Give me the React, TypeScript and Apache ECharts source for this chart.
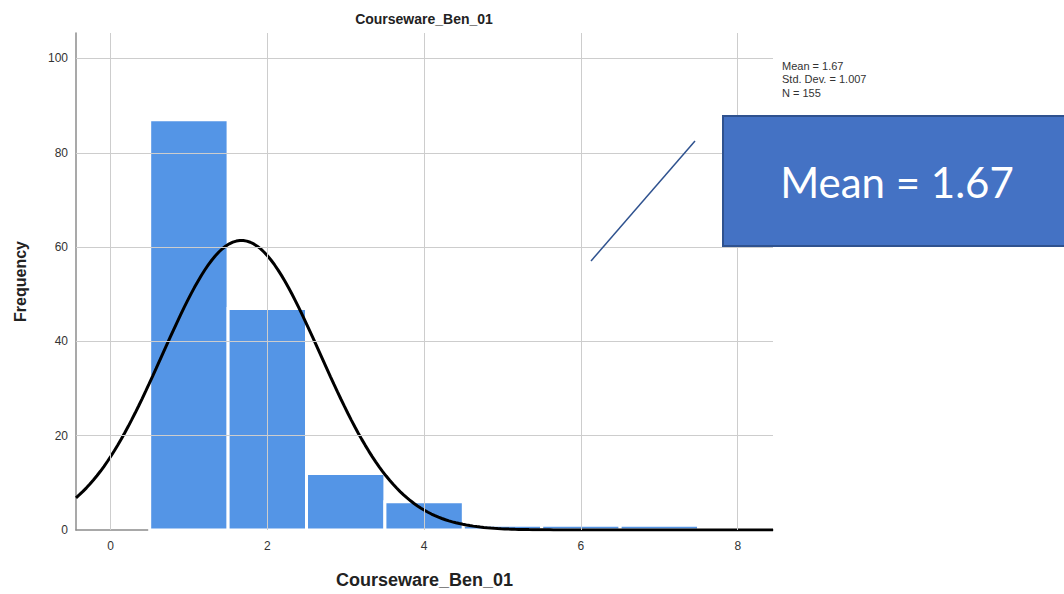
import React, { useEffect, useRef } from "react";
import * as echarts from "echarts";

// ---- Data ----
const binCenters = [1, 2, 3, 4, 5, 6, 7];
const frequencies = [87, 47, 12, 6, 1, 1, 1];
const binWidth = 1;
const xTicks = [0, 2, 4, 6, 8];
const yTicks = [0, 20, 40, 60, 80, 100];
const statMean = 1.67;
const statSd = 1.007;
const statN = 155;
const statLines = ["Mean = 1.67", "Std. Dev. = 1.007", "N = 155"];
const titleText = "Courseware_Ben_01";
const yName = "Frequency";
const calloutText = "Mean = 1.67";

const X_MIN = -0.44;
const X_MAX = 8.45;
const Y_MAX = 105.4;

// Fitted normal curve (SPSS overlay) defined by the stated Mean, Std. Dev. and N
function normalCurve(): number[][] {
  const pts: number[][] = [];
  const steps = 200;
  for (let i = 0; i <= steps; i++) {
    const x = X_MIN + ((X_MAX - X_MIN) * i) / steps;
    const z = (x - statMean) / statSd;
    const y = (statN * binWidth) / (statSd * Math.sqrt(2 * Math.PI)) * Math.exp(-0.5 * z * z);
    pts.push([x, y]);
  }
  return pts;
}

export default function App() {
  const ref = useRef<HTMLDivElement>(null);

  useEffect(() => {
    if (!ref.current) return;
    const chart = echarts.init(ref.current, null, { renderer: "svg" });
    const font = "'Liberation Sans', Arial, sans-serif";
    const gridColor = "#cdcdcd";
    const axisColor = "#8c8c8c";

    const option: any = {
      animation: false,
      backgroundColor: "#ffffff",
      title: {
        text: titleText,
        left: 419,
        top: 7,
        textAlign: "center",
        textStyle: { fontFamily: font, fontSize: 14, fontWeight: "bold", color: "#222" },
      },
      grid: {
        left: 76,
        right: 291,
        top: 33,
        bottom: 64,
        containLabel: false,
        outerBoundsMode: "none",
      },
      xAxis: {
        type: "value",
        min: X_MIN,
        max: X_MAX,
        name: titleText,
        nameLocation: "middle",
        nameGap: 41,
        nameTextStyle: { fontFamily: font, fontSize: 18, fontWeight: "bold", color: "#222" },
        axisLine: { show: true, onZero: false, lineStyle: { color: axisColor, width: 1.5 } },
        axisTick: { show: false },
        splitLine: { show: false },
        axisLabel: {
          customValues: xTicks,
          fontFamily: font,
          fontSize: 12,
          color: "#333",
          margin: 10,
        },
      },
      yAxis: {
        type: "value",
        position: "left",
        min: 0,
        max: Y_MAX,
        name: yName,
        nameLocation: "middle",
        nameGap: 48,
        nameTextStyle: { fontFamily: font, fontSize: 16, fontWeight: "bold", color: "#222" },
        axisLine: { show: true, onZero: false, lineStyle: { color: axisColor, width: 1.5 } },
        axisTick: { show: false },
        splitLine: { show: false },
        axisLabel: {
          customValues: yTicks,
          fontFamily: font,
          fontSize: 12,
          color: "#333",
          margin: 8,
        },
      },
      series: [
        {
          type: "line",
          name: "grid",
          z: 1,
          silent: true,
          symbol: "none",
          data: [[X_MIN, 0]],
          lineStyle: { opacity: 0 },
          markLine: {
            silent: true,
            symbol: "none",
            animation: false,
            label: { show: false },
            lineStyle: { color: gridColor, width: 1, type: "solid" },
            emphasis: { disabled: true },
            data: [
              ...xTicks.map((v) => ({ xAxis: v })),
              ...yTicks.filter((v) => v > 0).map((v) => ({ yAxis: v })),
            ],
          },
        },
        {
          type: "custom",
          name: "Frequency",
          z: 2,
          data: binCenters.map((c, i) => [c, frequencies[i]]),
          renderItem: (params: any, api: any) => {
            const c = api.value(0);
            const f = api.value(1);
            const p0 = api.coord([c - binWidth / 2, f]);
            const p1 = api.coord([c + binWidth / 2, 0]);
            return {
              type: "rect",
              shape: { x: p0[0], y: p0[1], width: p1[0] - p0[0], height: p1[1] - p0[1] },
              style: { fill: "#5495e6", stroke: "#ffffff", lineWidth: 3 },
            };
          },
        },
        {
          type: "line",
          name: "Normal",
          z: 3,
          symbol: "none",
          smooth: false,
          data: normalCurve(),
          lineStyle: { color: "#000000", width: 3 },
        },
      ],
      graphic: [
        {
          type: "text",
          left: 782,
          top: 59,
          z: 100,
          style: {
            text: statLines.join("\n"),
            fontFamily: font,
            fontSize: 11,
            lineHeight: 13.5,
            fill: "#333",
          },
        },
        {
          type: "line",
          z: 100,
          shape: { x1: 591, y1: 261, x2: 695, y2: 141 },
          style: { stroke: "#2f528f", lineWidth: 1.5 },
        },
        {
          type: "rect",
          z: 100,
          shape: { x: 723, y: 116, width: 345, height: 130 },
          style: { fill: "#4472c4", stroke: "#2f528f", lineWidth: 2 },
        },
        {
          type: "text",
          z: 101,
          x: 897,
          y: 182,
          style: {
            text: calloutText,
            fontFamily: "Lato, 'Open Sans', sans-serif",
            fontSize: 42,
            fill: "#ffffff",
            textAlign: "center",
            textVerticalAlign: "middle",
          },
        },
      ],
    };

    chart.setOption(option);
    return () => chart.dispose();
  }, []);

  return (
    <div
      ref={ref}
      style={{ position: "absolute", left: 0, top: 0, width: 1064, height: 594, background: "#fff" }}
    />
  );
}
